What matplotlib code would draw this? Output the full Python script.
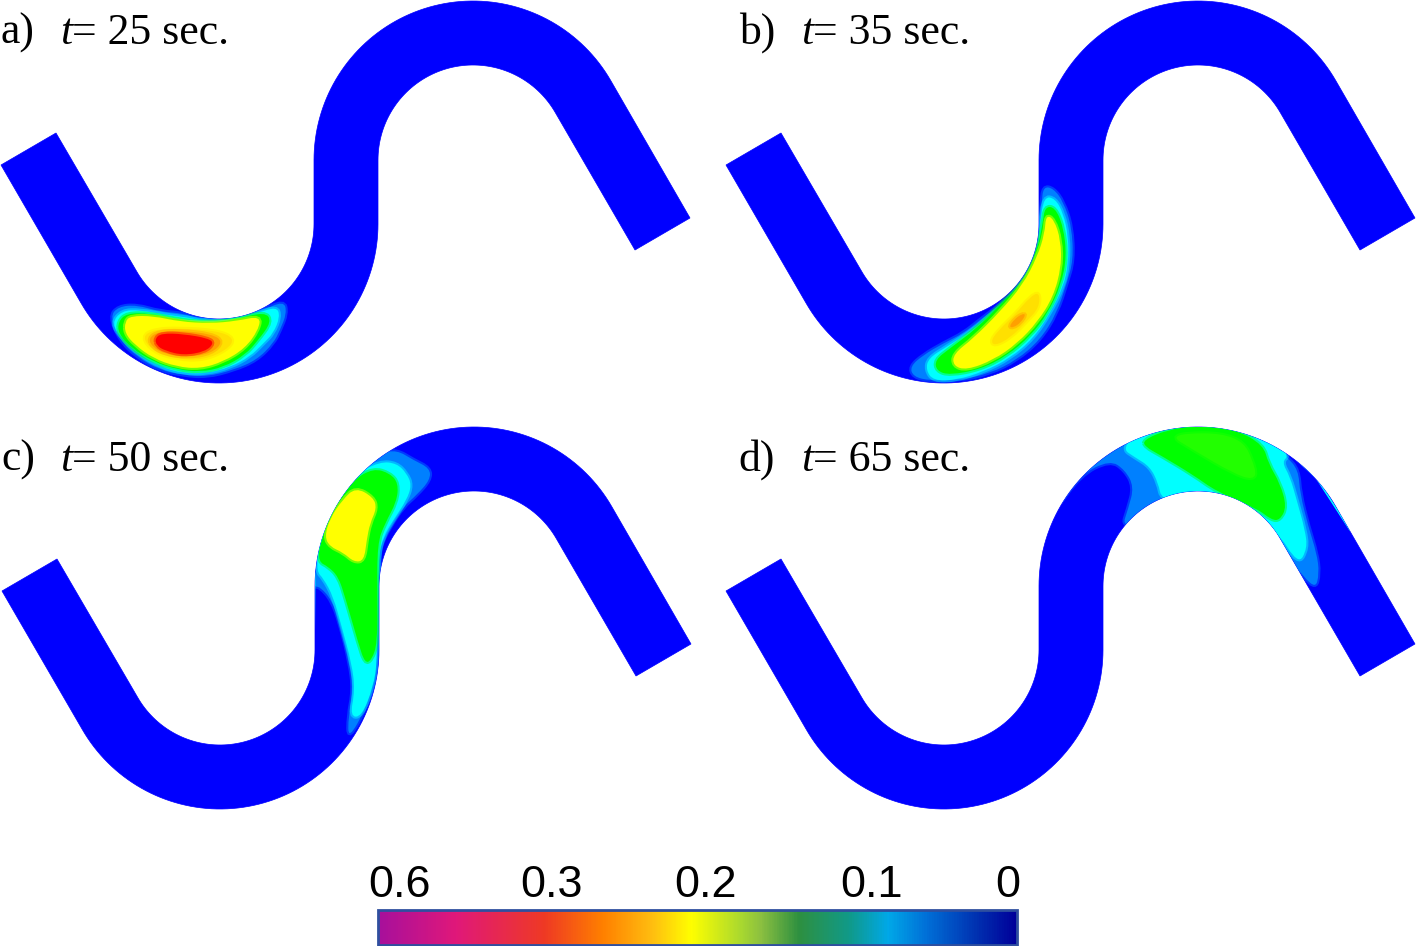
import numpy as np
import matplotlib
matplotlib.use('Agg')
from matplotlib import pyplot as plt
from matplotlib.colors import LinearSegmentedColormap
from matplotlib.patches import PathPatch, Rectangle
from matplotlib.path import Path
from matplotlib.transforms import Affine2D

# panel labels
panel_labels = ['a)', 'b)', 'c)', 'd)']
panel_times = ['25', '35', '50', '65']
panel_dx = [0, 725, 1, 725]
panel_dy = [0, 0, 426, 426]
label_x = [1, 739, 1, 738]
time_x = [60, 801, 60, 801]
label_y = [44, 44, 471, 471]

# colour bar
bar_pos = [0, .12, .26, .35, .43, .49, .57, .60, .66, .74, .80, .86, .94, 1]
bar_cols = ['#a8109c', '#e0187a', '#ef3a24', '#ff7f00', '#ffbf10', '#ffff00', '#a8d830',
            '#8cc040', '#2e9040', '#109a8a', '#00a8e8', '#0070d8', '#0030b0', '#00009a']
bar_labels = ['0.6', '0.3', '0.2', '0.1', '0']
bar_label_x = [400, 552, 705, 872, 1008]

# contour colours
BLUE = '#0000ff'
MID = '#0080ff'
CYAN = '#00ffff'
GREEN = '#00ff00'
LGREEN = '#22ff00'
YELLOW = '#ffff00'
LORANGE = '#ffe000'
ORANGE = '#ffa000'
RED = '#ff0000'

# contour outlines in crop coordinates (3 units per pixel)
crop_a = (60, 280)
a_mid = [(150, 110), (175, 80), (230, 75), (300, 95), (370, 100), (420, 118), (500, 118), (600, 95), (672, 62), (680, 100),
         (660, 150), (640, 190), (590, 240), (520, 270), (440, 290), (370, 285), (300, 270), (230, 230), (180, 180)]
a_cyan = [(155, 130), (185, 92), (240, 90), (320, 105), (380, 112), (430, 122), (500, 120), (590, 100), (650, 80), (660, 110),
          (640, 160), (610, 190), (570, 230), (510, 262), (440, 280), (370, 280), (300, 260), (240, 225), (185, 175)]
a_green = [(175, 125), (200, 100), (270, 100), (350, 118), (440, 128), (520, 120), (615, 95), (635, 125), (595, 180),
           (555, 225), (490, 262), (420, 276), (350, 268), (280, 245), (215, 205), (175, 160)]
a_yellow = [(195, 125), (212, 108), (280, 108), (360, 125), (450, 130), (530, 123), (602, 108), (595, 150), (555, 205),
            (490, 245), (420, 266), (350, 260), (280, 235), (225, 195), (195, 160)]
a_lorange = [(245, 170), (285, 148), (360, 145), (470, 152), (525, 175), (500, 210), (430, 240), (350, 237), (280, 215)]
a_orange = [(265, 175), (295, 155), (360, 152), (455, 162), (490, 185), (455, 220), (380, 232), (315, 222), (278, 202)]
a_red = [(285, 175), (305, 160), (370, 162), (445, 175), (462, 190), (435, 215), (370, 226), (315, 212), (290, 197)]

crop_b = (900, 170)
b_mid = [(430, 50), (460, 55), (490, 95), (515, 170), (520, 270), (500, 340), (470, 430), (420, 510), (350, 570), (270, 610),
         (180, 630), (90, 632), (40, 620), (30, 590), (70, 555), (130, 520), (190, 490), (240, 450), (280, 420), (340, 370),
         (390, 310), (415, 240), (418, 170), (425, 100)]
b_cyan = [(432, 80), (465, 85), (490, 130), (505, 200), (505, 280), (490, 350), (450, 430), (400, 505), (330, 565), (250, 605),
          (170, 630), (100, 632), (78, 600), (85, 565), (140, 530), (220, 480), (270, 435), (330, 385), (385, 310), (415, 230),
          (420, 160)]
b_green = [(435, 110), (465, 112), (490, 170), (500, 260), (483, 345), (443, 430), (392, 497), (320, 558), (240, 598),
           (150, 615), (110, 603), (105, 570), (150, 535), (230, 475), (300, 405), (370, 335), (412, 240), (428, 160)]
b_yellow = [(438, 135), (462, 148), (482, 210), (484, 290), (460, 380), (413, 455), (352, 520), (280, 570), (200, 600),
            (160, 588), (160, 552), (220, 505), (300, 425), (368, 345), (412, 260), (434, 190)]
b_lorange = [(418, 365), (418, 412), (382, 452), (332, 503), (283, 528), (272, 510), (308, 468), (350, 428), (388, 383)]
b_orange = [(378, 433), (362, 458), (340, 473), (327, 470), (343, 448), (365, 432)]

crop_c = (290, 430)
c_mid = [(320, 60), (370, 90), (420, 115), (420, 150), (380, 195), (340, 230), (300, 290), (270, 350), (262, 420), (262, 700),
         (230, 830), (175, 930), (175, 860), (190, 780), (180, 700), (150, 580), (125, 510), (90, 470), (70, 470), (60, 420),
         (75, 330), (120, 210), (210, 110), (270, 70)]
c_cyan = [(270, 95), (320, 100), (350, 130), (365, 165), (350, 210), (310, 270), (280, 320), (265, 380), (262, 690), (250, 770),
          (215, 860), (180, 860), (195, 780), (185, 700), (155, 590), (130, 500), (100, 445), (80, 425), (85, 350), (120, 240),
          (190, 135)]
c_green = [(250, 115), (300, 130), (325, 160), (320, 215), (285, 280), (262, 340), (262, 500), (262, 640), (245, 690), (225, 700),
           (205, 640), (165, 500), (145, 440), (115, 410), (85, 395), (90, 340), (125, 240), (190, 150)]
c_yellow = [(197, 172), (250, 202), (260, 235), (240, 280), (230, 330), (222, 392), (192, 396), (160, 368), (120, 350), (104, 320),
            (120, 265), (157, 210)]

crop_d = (1060, 420)
d_mid = [(-20, 280), (60, 165), (150, 120), (195, 150), (222, 200), (205, 265), (185, 325), (300, 300), (500, 300), (700, 430),
         (765, 510), (778, 460), (770, 400), (745, 320), (720, 220), (715, 150), (680, 110), (600, 40), (400, -20), (200, 40),
         (60, 130)]
d_cyan = [(185, 85), (225, 112), (270, 140), (295, 190), (305, 240), (400, 260), (550, 280), (650, 330), (715, 435), (742, 385),
          (735, 330), (710, 240), (690, 170), (665, 125), (690, 105), (600, 20), (400, -20), (250, 20)]
d_green = [(250, 60), (320, 30), (420, 15), (530, 30), (610, 75), (625, 130), (660, 190), (680, 260), (660, 300), (635, 300),
           (590, 265), (470, 215), (400, 165), (300, 105), (255, 80)]
d_lgreen = [(320, 40), (540, 40), (590, 150), (580, 180), (520, 160), (400, 90)]

# thin strips along the outer wall
c_wall = [(74, 430), (72, 660), (58, 735), (25, 800)]
d_wall = [(690, 100), (770, 175), (870, 330)]

contours = [
    (crop_a, [(a_mid, MID), (a_cyan, CYAN), (a_green, GREEN), (a_yellow, YELLOW),
              (a_lorange, LORANGE), (a_orange, ORANGE), (a_red, RED)]),
    (crop_b, [(b_mid, MID), (b_cyan, CYAN), (b_green, GREEN), (b_yellow, YELLOW),
              (b_lorange, LORANGE), (b_orange, ORANGE)]),
    (crop_c, [(c_mid, MID), (c_cyan, CYAN), (c_green, GREEN), (c_yellow, YELLOW)]),
    (crop_d, [(d_mid, MID), (d_cyan, CYAN), (d_green, GREEN), (d_lgreen, LGREEN)]),
]
walls = [(crop_c, c_wall), (crop_d, d_wall)]


def channel_path(dx, dy):
    # two straight legs and two bends, 65 px wide
    lo = np.radians(np.linspace(150, 0, 80))
    hi = np.radians(np.linspace(180, 330, 80))
    x_in = np.concatenate([219 + 95 * np.cos(lo), 473 + 159 * np.cos(hi)])
    y_in = np.concatenate([224 + 95 * np.sin(lo), 160 + 159 * np.sin(hi)])
    x_out = np.concatenate([219 + 159 * np.cos(lo), 473 + 95 * np.cos(hi)])
    y_out = np.concatenate([224 + 159 * np.sin(lo), 160 + 95 * np.sin(hi)])
    top = [(56, 133)] + list(zip(x_in, y_in)) + [(690, 218)]
    bottom = [(635, 250)] + list(zip(x_out, y_out))[::-1] + [(1, 165)]
    pts = np.array(top + bottom + [(56, 133)], dtype=float) + (dx, dy)
    return Path(pts, closed=True)


def smooth_path(pts):
    pts = np.array(pts, dtype=float)
    nxt = np.roll(pts, -1, axis=0)
    mids = (pts + nxt) / 2
    verts = [mids[-1]]
    codes = [Path.MOVETO]
    for p, m in zip(pts, mids):
        verts += [p, m]
        codes += [Path.CURVE3, Path.CURVE3]
    return Path(verts, codes)


fig = plt.figure(figsize=[14.18, 9.46], dpi=100)
ax = fig.add_axes([0, 0, 1, 1])
ax.set_xlim(0, 1418)
ax.set_ylim(946, 0)
ax.axis('off')

channels = []
for dx, dy in zip(panel_dx, panel_dy):
    ch = PathPatch(channel_path(dx, dy), fc=BLUE, ec=BLUE, lw=0.5, zorder=1)
    ax.add_patch(ch)
    channels.append(ch)

for ch, (crop, levels) in zip(channels, contours):
    tr = Affine2D().scale(1 / 3).translate(*crop) + ax.transData
    for i, (pts, col) in enumerate(levels):
        # soft rim first, the picture has blurred contour edges
        rim = PathPatch(smooth_path(pts), fc='none', ec=col, lw=3, alpha=0.45, transform=tr, zorder=2 + i)
        ax.add_patch(rim)
        rim.set_clip_path(ch)
        p = PathPatch(smooth_path(pts), fc=col, ec='none', transform=tr, zorder=2 + i)
        ax.add_patch(p)
        p.set_clip_path(ch)

for ch, (crop, pts) in zip(channels[2:], walls):
    tr = Affine2D().scale(1 / 3).translate(*crop) + ax.transData
    pts = np.array(pts)
    ax.plot(pts[:, 0], pts[:, 1], color=CYAN, lw=1.2, transform=tr, zorder=12, clip_path=ch)

# panel titles
for lab, t, x, tx, y in zip(panel_labels, panel_times, label_x, time_x, label_y):
    ax.text(x, y, lab, fontsize=31.5, family='Liberation Serif', va='baseline', ha='left')
    ax.text(tx, y, 't', fontsize=31.5, family='Liberation Serif', style='italic', va='baseline', ha='left')
    ax.text(tx + 12, y, '= ' + t + ' sec.', fontsize=31.5, family='Liberation Serif', va='baseline', ha='left')

# colour bar
cmap = LinearSegmentedColormap.from_list('bar', list(zip(bar_pos, bar_cols)))
grad = np.linspace(0, 1, 640).reshape(1, -1)
ax.imshow(grad, cmap=cmap, extent=(378, 1017, 945, 910), aspect='auto', zorder=1)
ax.add_patch(Rectangle((378, 910), 639, 35, fc='none', ec='#2f4f9f', lw=2, zorder=3))
ax.set_xlim(0, 1418)
ax.set_ylim(946, 0)
for lab, x in zip(bar_labels, bar_label_x):
    ax.text(x, 897, lab, fontsize=32.5, family='Liberation Sans', ha='center', va='baseline')

fig.savefig('out.png', dpi=100)
